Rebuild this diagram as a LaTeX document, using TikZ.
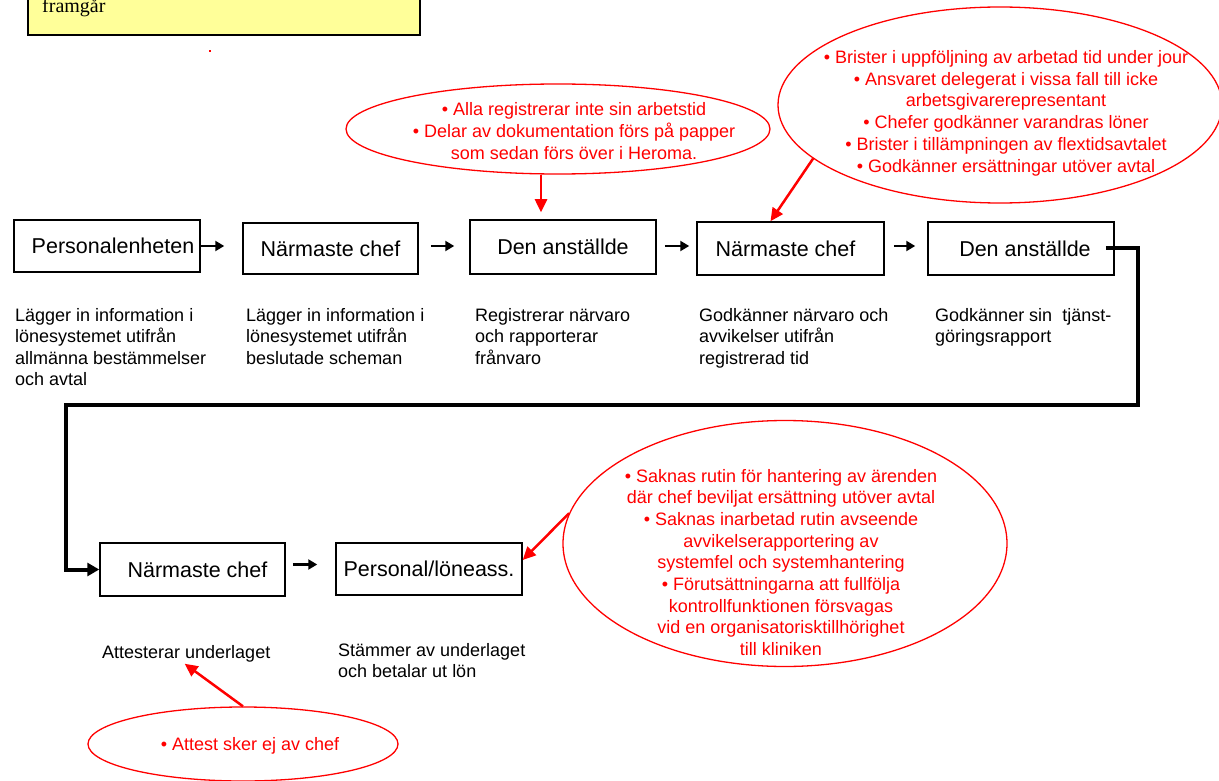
\documentclass[tikz,border=0pt]{standalone}
\usepackage{fontspec}
\setmainfont{Liberation Sans}
\newfontfamily\yellowserif{Liberation Serif}
\usetikzlibrary{arrows.meta,shapes.geometric}
\definecolor{rd}{RGB}{255,0,0}
\definecolor{yel}{RGB}{255,255,153}
\begin{document}
\begin{tikzpicture}[x=1pt,y=-1pt,
  box/.style={draw=black, line width=1.5pt, inner sep=2pt, font=\fontsize{21.5}{25}\selectfont},
  desc/.style={anchor=north west, inner sep=0pt, align=left, font=\fontsize{18}{21.5}\selectfont},
  note/.style={text=rd, align=center, inner sep=0pt, font=\fontsize{18}{21.7}\selectfont},
  bubble/.style={draw=rd, ellipse, line width=1.3pt, inner sep=0pt},
  flow/.style={line width=2.8pt, -{Triangle[length=9pt,width=10pt]}},
  loopline/.style={line width=4pt, -{Triangle[length=12pt,width=13pt]}},
  redarrow/.style={draw=rd, line width=2.5pt, -{Triangle[length=13pt,width=12pt]}}
]
\useasboundingbox (0,0) rectangle (1219,781);
\clip (0,0) rectangle (1219,781);

% yellow note box at top (cut off)
\node[draw=black, fill=yel, line width=1.5pt, minimum width=392pt, minimum height=80pt, anchor=south west, inner sep=0pt] (yb) at (27,36) {};
\node[anchor=base west, inner sep=0pt, font=\yellowserif\fontsize{20}{24}\selectfont] (fr) at (42,12.5) {framgår};
\fill[rd] (209,50) rectangle (211,52);

% ellipses
\node[bubble, minimum width=424pt, minimum height=90pt] (e1) at (558,129) {};
\node[bubble, minimum width=444pt, minimum height=196pt] (e2) at (1000,105) {};
\node[bubble, minimum width=444pt, minimum height=246pt] (e3) at (785,543.5) {};
\node[bubble, minimum width=310pt, minimum height=74pt] (e4) at (243,744) {};

\node[note] (n1) at (574,133) {\strut• Alla registrerar inte sin arbetstid\\• Delar av dokumentation förs på papper\\som sedan förs över i Heroma.\strut};
\node[note] (n2) at (1006,113.5) {\strut• Brister i uppföljning av arbetad tid under jour\\• Ansvaret delegerat i vissa fall till icke\\arbetsgivarerepresentant\\• Chefer godkänner varandras löner\\• Brister i tillämpningen av flextidsavtalet\\• Godkänner ersättningar utöver avtal\strut};
\node[note] (n3) at (781,564.5) {\strut• Saknas rutin för hantering av ärenden\\där chef beviljat ersättning utöver avtal\\• Saknas inarbetad rutin avseende\\avvikelserapportering av\\systemfel och systemhantering\\• Förutsättningarna att fullfölja\\kontrollfunktionen försvagas\\vid en organisatorisktillhörighet\\till kliniken\strut};
\node[note] (n4) at (250,746) {\strut• Attest sker ej av chef};

% boxes
\node[box, minimum width=186pt, minimum height=52pt] (b1) at (107,246) {\hspace*{12pt}Personalenheten};
\node[box, minimum width=175pt, minimum height=51pt] (b2) at (330.5,248.5) {Närmaste chef};
\node[box, minimum width=186pt, minimum height=54pt] (b3) at (563,247) {Den anställde};
\node[box, minimum width=187pt, minimum height=53pt] (b4) at (790.5,248.5) {Närmaste chef\hspace*{10pt}};
\node[box, minimum width=186pt, minimum height=53pt] (b5) at (1021,248.5) {\hspace*{8pt}Den anställde};
\node[box, minimum width=185pt, minimum height=53pt] (b6) at (192.5,569.5) {\hspace*{10pt}Närmaste chef};
\node[box, minimum width=186pt, minimum height=52pt] (b7) at (429,569) {Personal/löneass.};

% descriptions
\node[desc] (d1) at (15,306) {\strut Lägger in information i\\lönesystemet utifrån\\allmänna bestämmelser\\och avtal};
\node[desc] (d2) at (246,306) {\strut Lägger in information i\\lönesystemet utifrån\\beslutade scheman};
\node[desc] (d3) at (475,306) {\strut Registrerar närvaro\\och rapporterar\\frånvaro};
\node[desc] (d4) at (699,306) {\strut Godkänner närvaro och\\avvikelser utifrån\\registrerad tid};
\node[desc] (d5) at (935,306) {\strut Godkänner sin\ \ tjänst-\\göringsrapport};
\node[desc] (d6) at (102,643) {\strut Attesterar underlaget};
\node[desc] (d7) at (338,641) {\strut Stämmer av underlaget\\och betalar ut lön};

% flow arrows
\draw[flow, shorten >=18pt] (b1.east) -- (b2.west |- b1.east);
\draw[flow, shorten <=12pt, shorten >=15pt] (b2.east |- b1.east) -- (b3.west |- b1.east);
\draw[flow, shorten <=8pt, shorten >=7pt] (b3.east |- b1.east) -- (b4.west |- b1.east);
\draw[flow, shorten <=9pt, shorten >=12pt] (b4.east |- b1.east) -- (b5.west |- b1.east);
\draw[flow, shorten <=7pt, shorten >=18pt] ([yshift=5pt]b6.east) -- ([yshift=5pt]b6.east -| b7.west);

% loop connector
\coordinate (lr) at (1138,405);
\coordinate (ll) at (66,405);
\draw[loopline] ([xshift=-9pt,yshift=1pt]b5.east) -| (lr) -- (ll) |- (b6.west);

% red arrows
\draw[redarrow, shorten >=7pt] ([xshift=-17pt]e1.south) -- ([xshift=-22pt]b3.north);
\draw[redarrow] (e2.196) -- ([xshift=-20pt]b4.north);
\draw[redarrow] (e3.172) -- ([yshift=9pt]b7.east);
\draw[redarrow, shorten >=-2pt] (e4.north) -- (d6.south);
\end{tikzpicture}
\end{document}
